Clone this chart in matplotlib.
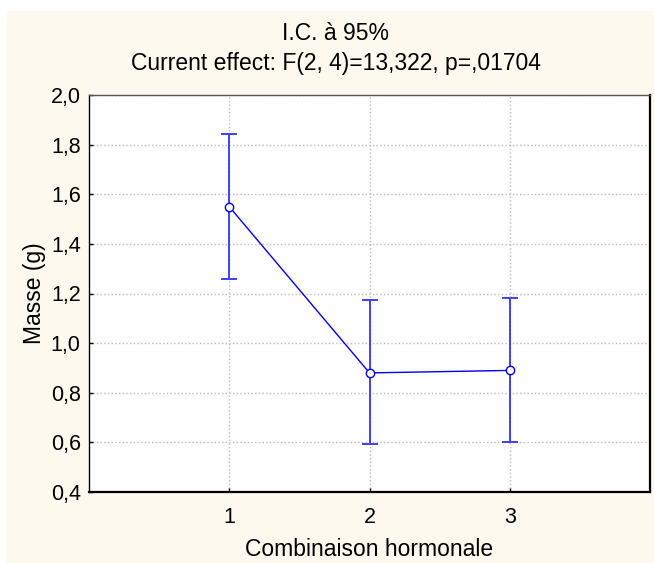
import matplotlib.pyplot as plt
from matplotlib.patches import Rectangle

# Données
groupes = [1, 2, 3]
moyennes = [1.55, 0.88, 0.89]
ic_bas = [1.258, 0.592, 0.600]
ic_haut = [1.843, 1.173, 1.181]

erreur_bas = [m - b for m, b in zip(moyennes, ic_bas)]
erreur_haut = [h - m for m, h in zip(moyennes, ic_haut)]

plt.rcParams['font.family'] = ['Liberation Sans', 'DejaVu Sans']

fig = plt.figure(figsize=(6.54, 5.63), dpi=100)
fig.patch.set_facecolor('white')
# fond crème
fig.patches.append(Rectangle((7 / 654, 0), 1 - 7 / 654, (563 - 11) / 563,
                             transform=fig.transFigure, facecolor='#fef9ee',
                             edgecolor='none', zorder=-10))

ax = fig.add_axes([89 / 654, 1 - 492 / 563, (650 - 89) / 654, (492 - 95) / 563])
ax.set_facecolor('white')

ax.errorbar(groupes, moyennes, yerr=[erreur_bas, erreur_haut], fmt='none',
            ecolor='#4040ff', elinewidth=1.4, capsize=6, capthick=1.4, zorder=3)
ax.plot(groupes, moyennes, color='#0000ee', linewidth=1.0, marker='o',
        markersize=6, markerfacecolor='white', markeredgecolor='#0000ee',
        markeredgewidth=1.0, zorder=4)

ax.set_xlim(0, 4)
ax.set_ylim(0.4, 2.0)
ax.set_xticks(groupes)
ax.set_xticklabels(['1', '2', '3'])
yticks = [0.4, 0.6, 0.8, 1.0, 1.2, 1.4, 1.6, 1.8, 2.0]
ax.set_yticks(yticks)
ax.set_yticklabels([f'{v:.1f}'.replace('.', ',') for v in yticks])
ax.tick_params(direction='in', length=3, width=1, labelsize=15.5, colors='black')
ax.tick_params(axis='x', pad=11)
ax.tick_params(axis='y', pad=6)
ax.grid(True, color='#bbbbbb', linestyle=':', linewidth=1)

for s in ax.spines.values():
    s.set_color('black')
    s.set_linewidth(1)
ax.spines['top'].set_color('#555555')
ax.spines['right'].set_linewidth(1.6)
ax.spines['bottom'].set_linewidth(1.6)

ax.set_xlabel('Combinaison hormonale', fontsize=16.5, labelpad=7)
ax.set_ylabel('Masse (g)', fontsize=16.5, labelpad=3)

fig.text(336 / 654, 1 - 34 / 563, 'I.C. à 95%', ha='center', va='center', fontsize=16.5)
fig.text(336 / 654, 1 - 64 / 563, 'Current effect: F(2, 4)=13,322, p=,01704',
         ha='center', va='center', fontsize=16.5)

fig.savefig('out.png', dpi=100, facecolor=fig.get_facecolor())
